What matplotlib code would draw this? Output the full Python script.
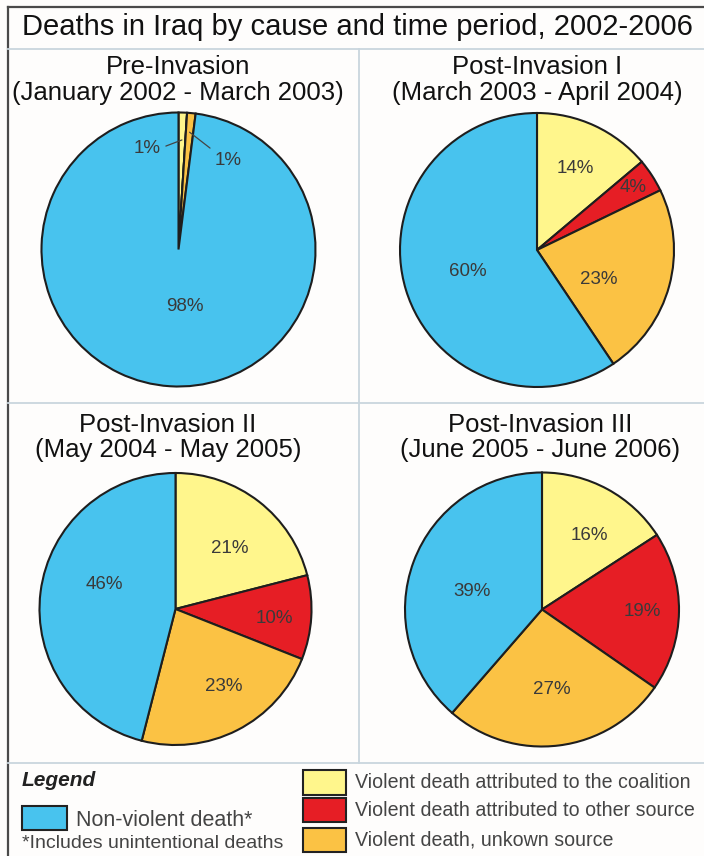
import numpy as np
import matplotlib
matplotlib.use("Agg")
import matplotlib.pyplot as plt
from matplotlib.lines import Line2D
from matplotlib.patches import Rectangle

plt.rcParams['font.family'] = ['Liberation Sans', 'DejaVu Sans']

# ---------------- data ----------------
title = "Deaths in Iraq by cause and time period, 2002-2006"
categories = ["Violent death attributed to the coalition",
              "Violent death attributed to other source",
              "Violent death, unkown source",
              "Non-violent death*"]
period_names = ["Pre-Invasion", "Post-Invasion I", "Post-Invasion II", "Post-Invasion III"]
period_dates = ["(January 2002 - March 2003)", "(March 2003 - April 2004)",
                "(May 2004 - May 2005)", "(June 2005 - June 2006)"]
pre_invasion = [1, 0, 1, 98]
post_invasion_1 = [14, 4, 23, 60]
post_invasion_2 = [21, 10, 23, 46]
post_invasion_3 = [16, 19, 27, 39]
footnote = "*Includes unintentional deaths"

# ---------------- style ----------------
colors = ["#FFF68C", "#E61E25", "#FBC244", "#48C3EE"]
W, H = 704, 856
fig = plt.figure(figsize=(W / 100, H / 100), dpi=100)
fig.patch.set_facecolor("#FEFDFC")

def fx(x): return x / W
def fy(y): return 1 - y / H

# frame lines
grid_c = "#C9D6DE"
fig.add_artist(Line2D([fx(8), fx(704)], [fy(7), fy(7)], color="#4A4A4A", lw=1.6))
fig.add_artist(Line2D([fx(8), fx(8)], [fy(7), fy(856)], color="#4A4A4A", lw=1.6))
fig.add_artist(Line2D([fx(8), fx(704)], [fy(49), fy(49)], color=grid_c, lw=1.3))
fig.add_artist(Line2D([fx(8), fx(704)], [fy(403), fy(403)], color=grid_c, lw=1.3))
fig.add_artist(Line2D([fx(8), fx(704)], [fy(763), fy(763)], color=grid_c, lw=1.3))
fig.add_artist(Line2D([fx(358.5), fx(358.5)], [fy(49), fy(763)], color=grid_c, lw=1.3))

fig.text(fx(357), fy(27), title, ha="center", va="center", fontsize=21, color="#111111")

pies = [pre_invasion, post_invasion_1, post_invasion_2, post_invasion_3]
centers = [(178.5, 249.5), (537, 250), (175.5, 609), (542, 609.5)]
radius_px = [137, 137, 136, 137]
head_pos = [(178, 67, 93), (537, 67, 93), (168, 425, 450), (540, 425, 450)]
# label placement (radial fraction, angle offset deg) per wedge
lab_r = [[None, None, None, 0.42], [0.66, 0.84, 0.50, 0.53],
         [0.60, 0.73, 0.67, 0.55], [0.64, 0.73, 0.59, 0.53]]
lab_da = [[0, 0, 0, 10], [0, 0, -10, 0], [-4, -2, 5, -12], [-4, 0, 0, 6]]
lab_fs = 13.5
lab_c = "#3A3A3A"

for k, vals in enumerate(pies):
    cx, cy = centers[k]
    r = radius_px[k]
    ax = fig.add_axes([fx(cx - r - 2), fy(cy + r + 2), (2 * r + 4) / W, (2 * r + 4) / H])
    ax.set_axis_off()
    lim = (r + 2) / r
    wedges, _ = ax.pie(vals, colors=colors, startangle=90, counterclock=False, radius=1,
                       wedgeprops=dict(edgecolor="#1E1E1E", linewidth=1.5))
    ax.set_aspect("auto")
    ax.set_xlim(-lim, lim)
    ax.set_ylim(-lim, lim)
    for i, w in enumerate(wedges):
        if vals[i] == 0 or lab_r[k][i] is None:
            continue
        mid = np.deg2rad((w.theta1 + w.theta2) / 2 + lab_da[k][i])
        ax.text(lab_r[k][i] * np.cos(mid), lab_r[k][i] * np.sin(mid), f"{vals[i]}%",
                ha="center", va="center", fontsize=lab_fs, color=lab_c)
    if k == 0:
        # small slices with leader lines
        small = [(0, (-0.23, 0.74), 0.80, (1.0, 0.5)),
                 (2, (0.365, 0.65), 0.86, (0.0, 1.0))]
        for i, (tx, ty), rr, rp in small:
            w = wedges[i]
            mid = np.deg2rad((w.theta1 + w.theta2) / 2)
            ax.annotate(f"{vals[i]}%", xy=(rr * np.cos(mid), rr * np.sin(mid)),
                        xytext=(tx, ty), ha="center", va="center",
                        fontsize=lab_fs, color=lab_c,
                        arrowprops=dict(arrowstyle="-", color="#444444", lw=0.9,
                                        shrinkA=2, shrinkB=0, relpos=rp))
    hx, hy1, hy2 = head_pos[k]
    fig.text(fx(hx), fy(hy1), period_names[k], ha="center", va="center",
             fontsize=18.5, color="#111111")
    fig.text(fx(hx), fy(hy2), period_dates[k], ha="center", va="center",
             fontsize=18.5, color="#111111")

# legend
fig.text(fx(22), fy(781), "Legend", ha="left", va="center", fontsize=15,
         fontstyle="italic", fontweight="bold", color="#222222")
fig.add_artist(Rectangle((fx(22), fy(830)), 45 / W, 24 / H, transform=fig.transFigure,
                         facecolor=colors[3], edgecolor="#222222", lw=1.5))
fig.text(fx(76), fy(820), categories[3], ha="left", va="center", fontsize=15.5, color="#444444")
fig.text(fx(22), fy(844), footnote, ha="left", va="center", fontsize=14, color="#444444")
box_y = [(770, 795), (798, 822), (828, 852)]
text_y = [782, 810, 840]
for i in range(3):
    y0, y1 = box_y[i]
    fig.add_artist(Rectangle((fx(303), fy(y1)), 43 / W, (y1 - y0) / H,
                             transform=fig.transFigure, facecolor=colors[i],
                             edgecolor="#222222", lw=1.5))
    fig.text(fx(355), fy(text_y[i]), categories[i], ha="left", va="center",
             fontsize=14.1, color="#444444")

fig.savefig("out.png", dpi=100, facecolor=fig.get_facecolor())
